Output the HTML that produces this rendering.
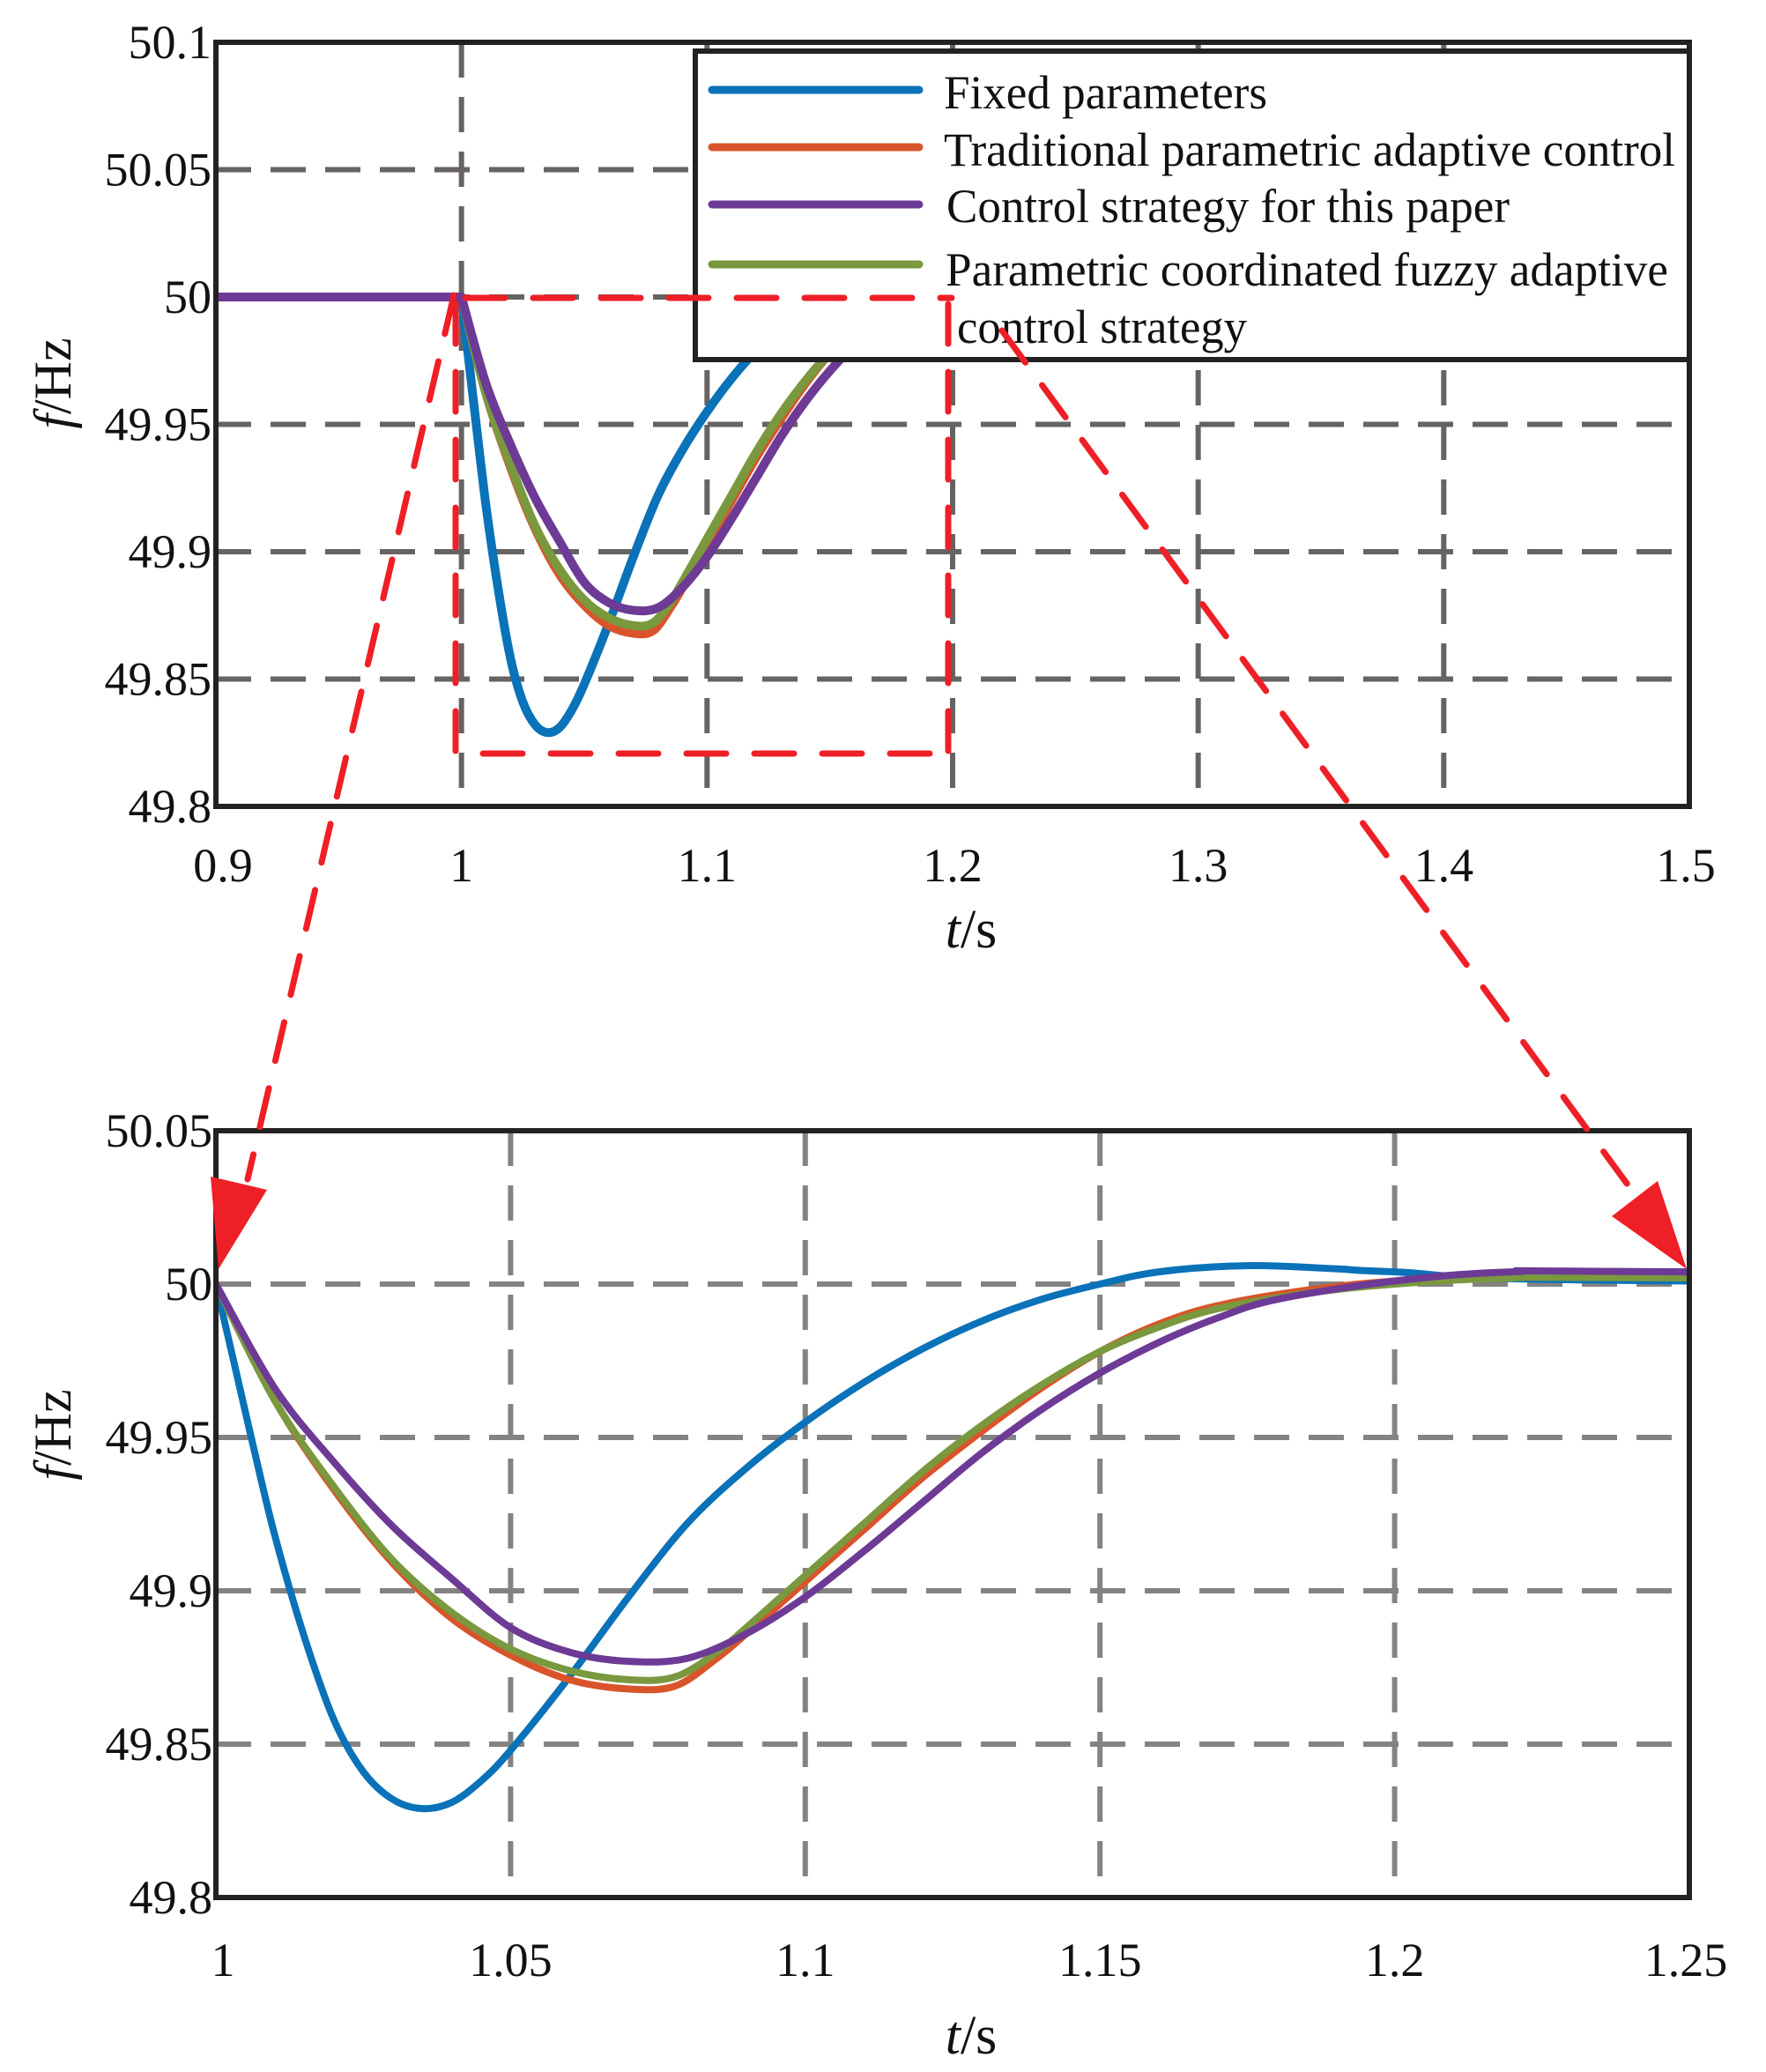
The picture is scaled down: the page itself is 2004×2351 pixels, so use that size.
<!DOCTYPE html>
<html><head><meta charset="utf-8"><style>
html,body{margin:0;padding:0;background:#fff}
svg{display:block}
text{font-family:"Liberation Serif",serif;fill:#111}
</style></head><body>
<svg id="s" width="2004" height="2351" viewBox="0 0 2004 2351" xmlns="http://www.w3.org/2000/svg">
<g id="g1"></g>
<g id="g2"></g>
<!-- legend -->
<rect x="789" y="58" width="1128" height="350" fill="#fff" stroke="#222" stroke-width="6"/>
<g stroke-width="9" stroke-linecap="round">
<line x1="808" y1="102" x2="1043" y2="102" stroke="#0a72b8"/>
<line x1="808" y1="167" x2="1043" y2="167" stroke="#d9542a"/>
<line x1="808" y1="232" x2="1043" y2="232" stroke="#6d3a95"/>
<line x1="808" y1="300" x2="1043" y2="300" stroke="#7a983e"/>
</g>
<g font-size="54">
<text x="1071" y="123" textLength="367" lengthAdjust="spacingAndGlyphs">Fixed parameters</text>
<text x="1071" y="188" textLength="830" lengthAdjust="spacingAndGlyphs">Traditional parametric adaptive control</text>
<text x="1074" y="252" textLength="639" lengthAdjust="spacingAndGlyphs">Control strategy for this paper</text>
<text x="1073" y="324" textLength="820" lengthAdjust="spacingAndGlyphs">Parametric coordinated fuzzy adaptive</text>
<text x="1086" y="389" textLength="329" lengthAdjust="spacingAndGlyphs">control strategy</text>
</g>
<!-- red annotations -->
<g stroke="#ee1f26" stroke-width="7" fill="none" stroke-linecap="round" stroke-dasharray="45 32">
<line x1="528" y1="338" x2="1080" y2="338"/>
<line x1="517" y1="345" x2="517" y2="855"/>
<line x1="1076" y1="345" x2="1076" y2="855"/>
<line x1="548" y1="855" x2="1076" y2="855"/>
<line x1="515" y1="335" x2="281" y2="1338"/>
<line x1="1137" y1="375" x2="1855" y2="1355"/>
</g>
<polygon points="239,1335 303,1350 248,1440" fill="#ee1f26"/>
<polygon points="1881,1340 1829,1380 1914,1440" fill="#ee1f26"/>
<!-- axis labels -->
<text transform="translate(80,435) rotate(-90)" font-size="60" text-anchor="middle"><tspan font-style="italic">f</tspan>/Hz</text>
<text transform="translate(80,1628) rotate(-90)" font-size="60" text-anchor="middle"><tspan font-style="italic">f</tspan>/Hz</text>
<text x="1102" y="1075" font-size="62" text-anchor="middle"><tspan font-style="italic">t</tspan>/s</text>
<text x="1102" y="2330" font-size="62" text-anchor="middle"><tspan font-style="italic">t</tspan>/s</text>
</svg>
<script>
var NS="http://www.w3.org/2000/svg";
function el(p,n,a,t){var e=document.createElementNS(NS,n);for(var k in a)e.setAttribute(k,a[k]);if(t!=null)e.textContent=t;p.appendChild(e);return e;}
var blue=[[1,50],[1.003,49.975],[1.006,49.95],[1.01,49.918],[1.015,49.885],[1.02,49.858],[1.025,49.841],[1.03,49.832],[1.035,49.829],[1.04,49.831],[1.045,49.838],[1.05,49.848],[1.06,49.872],[1.07,49.898],[1.08,49.922],[1.09,49.94],[1.1,49.955],[1.11,49.968],[1.12,49.979],[1.13,49.988],[1.14,49.995],[1.15,50.0],[1.16,50.004],[1.175,50.006],[1.19,50.005],[1.2,50.004],[1.25,50.001],[1.5,50.0]];
var orange=[[1,50],[1.01,49.962],[1.02,49.933],[1.03,49.909],[1.04,49.891],[1.05,49.879],[1.06,49.871],[1.07,49.868],[1.078,49.869],[1.085,49.878],[1.09,49.886],[1.1,49.903],[1.11,49.92],[1.12,49.937],[1.13,49.952],[1.14,49.966],[1.15,49.978],[1.16,49.987],[1.17,49.993],[1.185,49.998],[1.2,50.001],[1.22,50.003],[1.25,50.003],[1.5,50.0]];
var green=[[1,50],[1.01,49.962],[1.02,49.934],[1.03,49.91],[1.04,49.893],[1.05,49.881],[1.06,49.874],[1.07,49.871],[1.078,49.872],[1.085,49.88],[1.09,49.888],[1.1,49.905],[1.11,49.922],[1.12,49.939],[1.13,49.954],[1.14,49.967],[1.15,49.978],[1.16,49.986],[1.17,49.992],[1.185,49.997],[1.2,50.0],[1.22,50.002],[1.25,50.002],[1.5,50.0]];
var purple=[[1,50],[1.01,49.966],[1.02,49.942],[1.03,49.921],[1.04,49.904],[1.05,49.888],[1.06,49.88],[1.07,49.877],[1.08,49.878],[1.09,49.886],[1.1,49.898],[1.11,49.913],[1.12,49.929],[1.13,49.945],[1.14,49.959],[1.15,49.971],[1.16,49.981],[1.17,49.989],[1.18,49.995],[1.2,50.001],[1.22,50.004],[1.25,50.004],[1.5,50.001]];
function smooth(P){
 var d="M"+P[0][0].toFixed(1)+","+P[0][1].toFixed(1);
 for(var i=0;i<P.length-1;i++){
  var p0=P[Math.max(i-1,0)],p1=P[i],p2=P[i+1],p3=P[Math.min(i+2,P.length-1)];
  var t=0.5/3;
  var c1=[p1[0]+(p2[0]-p0[0])*t,p1[1]+(p2[1]-p0[1])*t];
  var c2=[p2[0]-(p3[0]-p1[0])*t,p2[1]-(p3[1]-p1[1])*t];
  d+=" C"+c1[0].toFixed(1)+","+c1[1].toFixed(1)+" "+c2[0].toFixed(1)+","+c2[1].toFixed(1)+" "+p2[0].toFixed(1)+","+p2[1].toFixed(1);
 }
 return d;
}
function plot(g,o){
 var X=function(t){return o.l+(t-o.x0)/(o.x1-o.x0)*(o.r-o.l)};
 var Y=function(f){return o.b-(f-o.y0)/(o.y1-o.y0)*(o.b-o.t)};
 var gg=el(g,"g",{stroke:o.gc,"stroke-width":6,"stroke-dasharray":"40 22"});
 o.xt.forEach(function(v,i){if(i>0&&i<o.xt.length-1)el(gg,"line",{x1:X(v),y1:o.t,x2:X(v),y2:o.b});});
 o.yt.forEach(function(v,i){if(i>0&&i<o.yt.length-1)el(gg,"line",{x1:o.l,y1:Y(v),x2:o.r,y2:Y(v)});});
 var cl=el(g,"clipPath",{id:o.id});el(cl,"rect",{x:o.l,y:o.t,width:o.r-o.l,height:o.b-o.t});
 var cg=el(g,"g",{"clip-path":"url(#"+o.id+")",fill:"none","stroke-width":o.w,"stroke-linejoin":"round","stroke-linecap":"round"});
 [[blue,"#0a72b8"],[orange,"#d9542a"],[green,"#7a983e"],[purple,"#6d3a95"]].forEach(function(s){
  var pts=s[0].map(function(p){return [X(p[0]),Y(p[1])]});
  if(o.x0<1){el(cg,"line",{x1:X(o.x0),y1:Y(50),x2:X(1),y2:Y(50),stroke:s[1]});}
  el(cg,"path",{d:smooth(pts),stroke:s[1]});
 });
 el(g,"rect",{x:o.l,y:o.t,width:o.r-o.l,height:o.b-o.t,fill:"none",stroke:"#222","stroke-width":6});
 o.xt.forEach(function(v,i){el(g,"text",{x:X(v)+(i==0?8:0)+(i==o.xt.length-1?-4:0),y:o.xb,"font-size":o.fs,"text-anchor":"middle"},o.xl[i]);});
 o.yt.forEach(function(v,i){el(g,"text",{x:o.yr,y:Y(v)+18,"font-size":o.fs,"text-anchor":"end"},o.yl[i]);});
}
plot(document.getElementById("g1"),{id:"c1",l:245,r:1917,t:48,b:915,x0:0.9,x1:1.5,y0:49.8,y1:50.1,gc:"#676363",w:10,
 xt:[0.9,1,1.1,1.2,1.3,1.4,1.5],xl:["0.9","1","1.1","1.2","1.3","1.4","1.5"],
 yt:[49.8,49.85,49.9,49.95,50,50.05,50.1],yl:["49.8","49.85","49.9","49.95","50","50.05","50.1"],xb:1000,yr:240,fs:54});
plot(document.getElementById("g2"),{id:"c2",l:245,r:1917,t:1283,b:2153,x0:1,x1:1.25,y0:49.8,y1:50.05,gc:"#858282",w:8,
 xt:[1,1.05,1.1,1.15,1.2,1.25],xl:["1","1.05","1.1","1.15","1.2","1.25"],
 yt:[49.8,49.85,49.9,49.95,50,50.05],yl:["49.8","49.85","49.9","49.95","50","50.05"],xb:2242,yr:241,fs:54});
</script>
</body></html>
